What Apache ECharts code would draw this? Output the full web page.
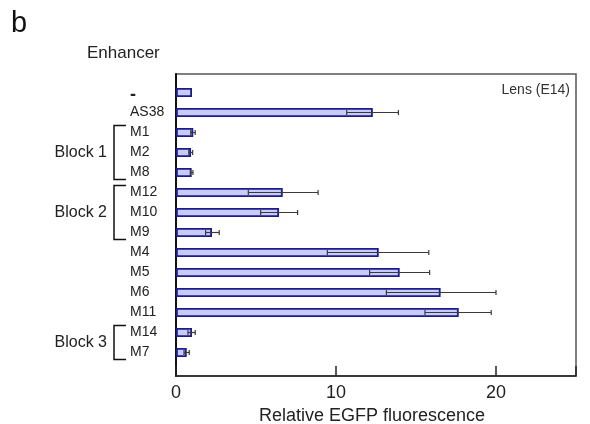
<!DOCTYPE html>
<html>
<head>
<meta charset="utf-8">
<script src="https://cdn.jsdelivr.net/npm/echarts@6/dist/echarts.min.js"></script>
<style>
  html, body { margin: 0; padding: 0; background: #fff; }
  #chart { width: 590px; height: 424px; }
</style>
</head>
<body>
<div id="chart"></div>
<script>
var categories = ['-', 'AS38', 'M1', 'M2', 'M8', 'M12', 'M10', 'M9', 'M4', 'M5', 'M6', 'M11', 'M14', 'M7'];
var fluorescence = [1.0, 12.3, 1.08, 0.94, 0.98, 6.67, 6.44, 2.25, 12.67, 13.98, 16.54, 17.67, 1.0, 0.67];
var errLow = [null, 10.67, 0.92, 0.8, 0.9, 4.52, 5.29, 1.85, 9.46, 12.1, 13.15, 15.56, 0.75, 0.5];
var errHigh = [null, 13.9, 1.2, 1.04, 1.06, 8.88, 7.6, 2.7, 15.8, 15.85, 20.0, 19.7, 1.2, 0.83];
var xTicks = [0, 10, 20];
var blocks = [
  { name: 'Block 1', from: 'M1', to: 'M8' },
  { name: 'Block 2', from: 'M12', to: 'M9' },
  { name: 'Block 3', from: 'M14', to: 'M7' }
];

var font = 'Liberation Sans, Arial, Helvetica, sans-serif';
var chart = echarts.init(document.getElementById('chart'));

var errData = [];
categories.forEach(function (c, i) {
  if (errLow[i] != null) errData.push([i, errLow[i], errHigh[i]]);
});

var option = {
  animation: false,
  textStyle: { fontFamily: font },
  grid: [
    { left: 176, top: 74, width: 400, height: 302, show: true, borderColor: '#555', borderWidth: 1.5, outerBoundsMode: 'none', containLabel: false },
    { left: 176, top: 82.5, width: 400, height: 280, outerBoundsMode: 'none', containLabel: false }
  ],
  xAxis: [{
    gridIndex: 0,
    type: 'value',
    min: 0,
    max: 25,
    interval: 10,
    name: 'Relative EGFP fluorescence',
    nameLocation: 'middle',
    nameGap: 28,
    nameTextStyle: { fontSize: 18, color: '#222', fontFamily: font, padding: [0, 8, 0, 0] },
    axisLine: { show: true, lineStyle: { color: '#222', width: 1.5 } },
    axisTick: { show: true, inside: true, length: 10, lineStyle: { color: '#222', width: 1.5 } },
    axisLabel: {
      fontSize: 18, color: '#222', margin: 8, fontFamily: font,
      formatter: function (v) { return xTicks.indexOf(v) >= 0 ? String(v) : ''; }
    },
    splitLine: { show: false }
  }, {
    gridIndex: 1,
    type: 'value',
    min: 0,
    max: 25,
    show: false
  }],
  yAxis: [{
    gridIndex: 0,
    type: 'value',
    min: 0,
    max: 1,
    axisLine: { show: true, lineStyle: { color: '#111', width: 2 } },
    axisTick: { show: false },
    axisLabel: { show: false },
    splitLine: { show: false }
  }, {
    gridIndex: 1,
    type: 'category',
    data: categories,
    inverse: true,
    axisLine: { show: false },
    axisTick: { show: false },
    axisLabel: {
      align: 'left', margin: 46, fontSize: 14, color: '#222', fontFamily: font,
      formatter: function (v) { return v === '-' ? '{dash|' + v + '}' : v; },
      rich: { dash: { fontSize: 18, fontWeight: 'bold', color: '#222', padding: [5, 0, 0, 0] } }
    }
  }],
  series: [{
    type: 'bar',
    xAxisIndex: 1,
    yAxisIndex: 1,
    data: fluorescence,
    barWidth: 9,
    itemStyle: { color: '#c8caf7', borderColor: '#1c1c8c', borderWidth: 1.8 }
  }, {
    type: 'custom',
    xAxisIndex: 1,
    yAxisIndex: 1,
    data: errData,
    z: 5,
    renderItem: function (params, api) {
      var y = api.value(0);
      var a = api.coord([api.value(1), y]);
      var b = api.coord([api.value(2), y]);
      var style = { stroke: '#3a3a3a', lineWidth: 1.2 };
      return {
        type: 'group',
        children: [
          { type: 'line', shape: { x1: a[0], y1: a[1], x2: b[0], y2: b[1] }, style: style },
          { type: 'line', shape: { x1: a[0], y1: a[1] - 2.5, x2: a[0], y2: a[1] + 2.5 }, style: style },
          { type: 'line', shape: { x1: b[0], y1: b[1] - 2.5, x2: b[0], y2: b[1] + 2.5 }, style: style }
        ]
      };
    }
  }]
};

chart.setOption(option);

var graphics = [
  { type: 'text', left: 11, top: 9, style: { text: 'b', fontSize: 29, fill: '#111', fontFamily: font } },
  { type: 'text', left: 87, top: 45, style: { text: 'Enhancer', fontSize: 17, fill: '#222', fontFamily: font } },
  { type: 'text', x: 570, y: 90, style: { text: 'Lens (E14)', fontSize: 14, fill: '#333', align: 'right', verticalAlign: 'middle', fontFamily: font } }
];
blocks.forEach(function (b) {
  var y1 = chart.convertToPixel({ yAxisIndex: 1 }, b.from) - 7;
  var y2 = chart.convertToPixel({ yAxisIndex: 1 }, b.to) + 7;
  var st = { stroke: '#111', lineWidth: 1.5 };
  graphics.push(
    { type: 'polyline', shape: { points: [[126, y1], [114, y1], [114, y2], [126, y2]] }, style: st },
    { type: 'text', x: 107, y: (y1 + y2) / 2, style: { text: b.name, fontSize: 16, fill: '#222', align: 'right', verticalAlign: 'middle', fontFamily: font } }
  );
});
chart.setOption({ graphic: graphics });
</script>
</body>
</html>
